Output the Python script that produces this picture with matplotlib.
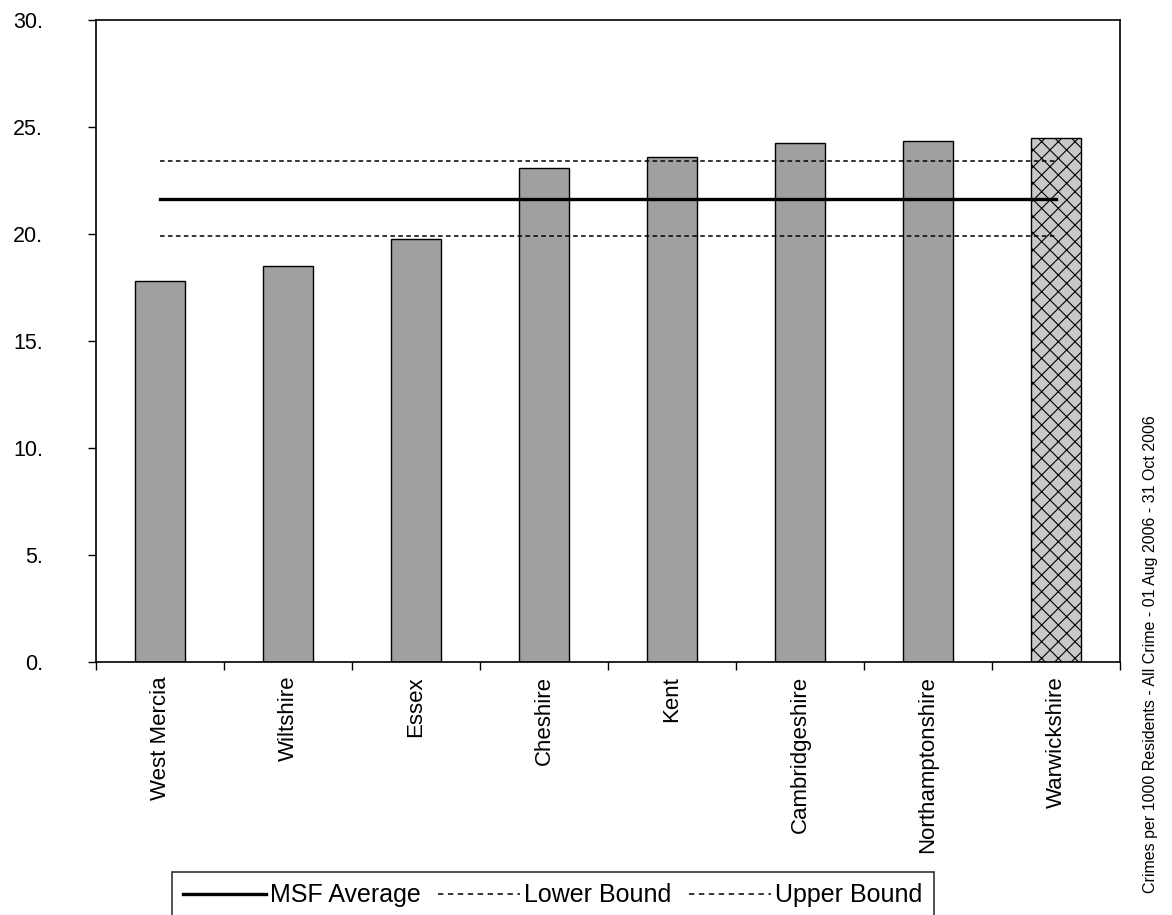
import matplotlib
matplotlib.use("Agg")
import matplotlib.pyplot as plt
from matplotlib.lines import Line2D
import numpy as np

plt.rcParams['font.family'] = ['Liberation Sans', 'DejaVu Sans']
plt.rcParams['hatch.linewidth'] = 0.8

# datos
forces = ["West Mercia", "Wiltshire", "Essex", "Cheshire", "Kent",
          "Cambridgeshire", "Northamptonshire", "Warwickshire"]
crimes = [17.8, 18.5, 19.75, 23.1, 23.6, 24.25, 24.35, 24.5]
msf_average = [21.65] * 8
lower_bound = [19.9] * 8
upper_bound = [23.4] * 8
y_ticks = [0, 5, 10, 15, 20, 25, 30]
y_labels = ["0.", "5.", "10.", "15.", "20.", "25.", "30."]

fig = plt.figure(figsize=(11.72, 9.15), dpi=100)
ax = fig.add_axes([96/1172, 1-662/915, (1120-96)/1172, (662-20)/915])

x = np.arange(len(forces))
colors = ["#a0a0a0"] * (len(forces) - 1) + ["#c8c8c8"]
bars = ax.bar(x, crimes, width=0.39, color=colors, edgecolor="black", linewidth=1, zorder=2)
bars[-1].set_hatch("xx")

# lineas de media y limites
ax.plot(x, msf_average, color="black", lw=2.4, zorder=3)
ax.plot(x, lower_bound, color="black", lw=1.1, dashes=(3, 2.2), zorder=3)
ax.plot(x, upper_bound, color="black", lw=1.1, dashes=(3, 2.2), zorder=3)

ax.set_xlim(-0.5, len(forces) - 0.5)
ax.set_ylim(0, 30)
ax.set_yticks(y_ticks)
ax.set_yticklabels(y_labels, fontsize=15.5)
ax.tick_params(axis="y", direction="out", length=6, width=1, pad=32, colors="black")

ax.set_xticks(x)
ax.set_xticklabels(forces, rotation=90, fontsize=16, va="top")
ax.tick_params(axis="x", which="major", length=0, pad=10)
ax.set_xticks(np.arange(-0.5, len(forces), 1), minor=True)
ax.tick_params(axis="x", which="minor", direction="out", length=6, width=1)

for s in ax.spines.values():
    s.set_linewidth(1.2)
    s.set_color("black")

handles = [Line2D([], [], color="black", lw=2.4),
           Line2D([], [], color="black", lw=1.1, dashes=(3.5, 3)),
           Line2D([], [], color="black", lw=1.1, dashes=(3.5, 3))]
leg = fig.legend(handles, ["MSF Average", "Lower Bound", "Upper Bound"],
                 loc="upper left", bbox_to_anchor=(172/1172, 1-872/915),
                 ncol=3, fontsize=18, frameon=True, fancybox=False,
                 handlelength=3.3, handletextpad=0.15, columnspacing=0.7,
                 borderaxespad=0, borderpad=0.45)
leg.get_frame().set_edgecolor("black")
leg.get_frame().set_linewidth(1.2)

fig.text(1150/1172, 1-893/915,
         "Crimes per 1000 Residents - All Crime - 01 Aug 2006 - 31 Oct 2006",
         rotation=90, ha="center", va="bottom", fontsize=11.5)

fig.savefig("out.png", dpi=100)
